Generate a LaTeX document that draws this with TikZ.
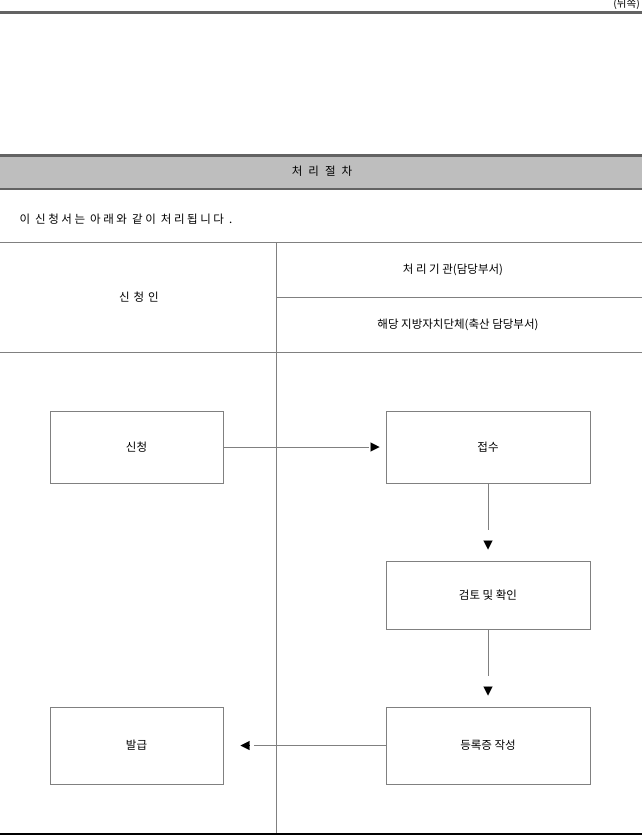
\documentclass[tikz,border=0pt]{standalone}
\usepackage{fontspec}
\setmainfont{Noto Sans CJK KR}
\usetikzlibrary{arrows.meta}
\definecolor{rulegray}{HTML}{808080}
\definecolor{bandgray}{HTML}{BEBEBE}
\definecolor{darkrule}{HTML}{636363}

\begin{document}
\begin{tikzpicture}[x=1pt,y=-1pt,font=\fontsize{11.5}{13}\selectfont,
  box/.style={draw=rulegray,line width=1pt,minimum width=#1,inner sep=0pt},
  frame/.style={draw=rulegray,line width=1pt},
  conn/.style={draw=rulegray,line width=1pt},
  tip/.style={-{Triangle[length=9pt,width=9pt]},black,line width=0.1pt},
  spaced/.style={font=\fontsize{11.5}{13}\selectfont\addfontfeature{LetterSpace=#1}}]
\useasboundingbox (0,0) rectangle (642,835);
% header rule and title band
\draw[darkrule,line width=3pt] (0,12) -- (642,12);
\node[anchor=east,inner sep=0pt,font=\fontsize{10.5}{12}\selectfont] (side) at (640,4.5) {(뒤쪽)};
\fill[bandgray] (0,155) rectangle (642,189);
\draw[darkrule,line width=3pt] (0,155) -- (642,155);
\draw[darkrule,line width=1.2pt] (0,189) -- (642,189);
\node[spaced=30] (title) at (322,171) {처 리 절 차};
\node[anchor=west,spaced=22] (intro) at (16,219) {이 신청서는 아래와 같이 처리됩니다 .};
% table
\draw[frame] (0,242) -- (642,242);
\draw[frame] (276,242) -- (276,833);
\draw[frame] (276,297) -- (642,297);
\draw[frame] (0,352) -- (642,352);
\draw[black,line width=2pt] (0,834) -- (642,834);
\node[spaced=12] (applicant) at (139,297) {신 청 인};
\node (agency) at (453,270) {처 리 기 관(담당부서)};
\node (local) at (458,325) {해당 지방자치단체(축산 담당부서)};
% procedure boxes
\node[box=173pt,minimum height=72pt] (apply) at (136.5,447) {신청};
\node[box=204pt,minimum height=72pt] (receipt) at (488,447) {접수};
\node[box=204pt,minimum height=68pt] (review) at (488,595) {검토 및 확인};
\node[box=204pt,minimum height=77pt] (write) at (488,745.5) {등록증 작성};
\node[box=173pt,minimum height=77pt] (issue) at (136.5,745.5) {발급};
% connectors, tips stand apart from the lines
\draw[conn] (apply.east) -- ([xshift=-17pt]receipt.west);
\draw[tip] ([xshift=-15pt]receipt.west) -- ([xshift=-6pt]receipt.west);
\draw[conn] (receipt.south) -- ([yshift=31pt]review.north);
\draw[tip] ([yshift=20pt]review.north) -- ([yshift=11pt]review.north);
\draw[conn] (review.south) -- ([yshift=31pt]write.north);
\draw[tip] ([yshift=20pt]write.north) -- ([yshift=11pt]write.north);
\draw[conn] (write.west) -- ([xshift=30pt]issue.east);
\draw[tip] ([xshift=26pt]issue.east) -- ([xshift=17pt]issue.east);
\end{tikzpicture}
\end{document}
